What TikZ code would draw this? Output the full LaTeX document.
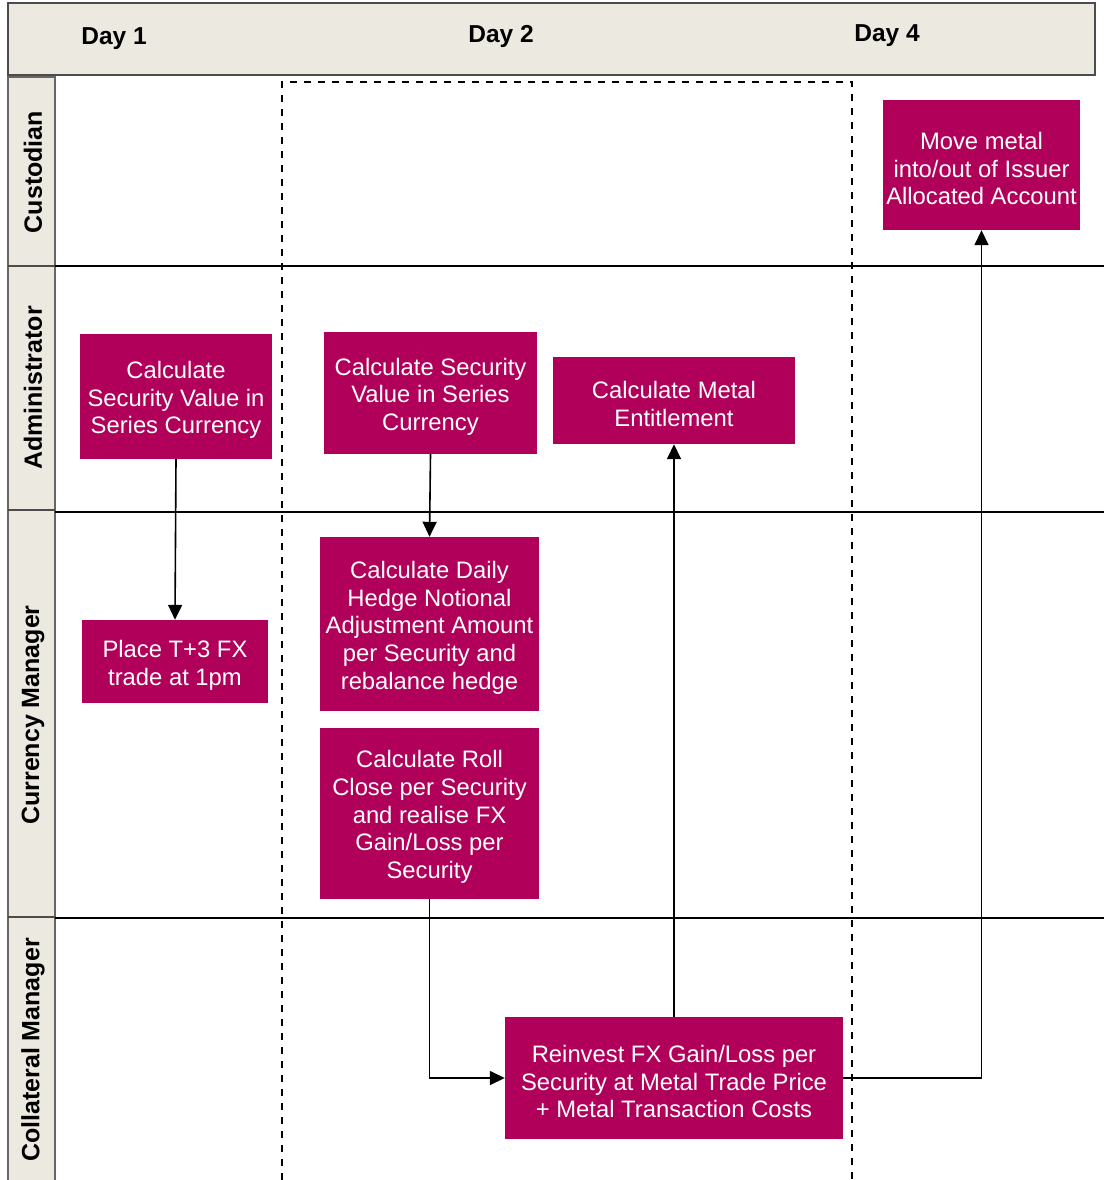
\documentclass[tikz,border=0pt]{standalone}
\usepackage{fontspec}
\setmainfont{Liberation Sans}
\usetikzlibrary{arrows.meta}
\definecolor{boxc}{RGB}{176,0,90}
\definecolor{beige}{RGB}{236,234,224}
\newcommand\myTopStrut{\rule{0pt}{24.5pt}}
\begin{document}
\begin{tikzpicture}[x=1pt,y=-1pt,
  proc/.style={fill=boxc,text=white,align=center,inner sep=0pt,font=\fontsize{23.8}{27.7}\selectfont},
  lane/.style={rotate=90,font=\fontsize{25}{29}\selectfont\bfseries},
  dayl/.style={font=\fontsize{24.5}{29}\selectfont\bfseries},
  conn/.style={line width=1.6pt,-{Triangle[length=15pt,width=14pt]}},
  sep/.style={line width=1.5pt}]
\useasboundingbox (0,0) rectangle (1104,1180);
\fill[white] (0,0) rectangle (1104,1180);
% header
\draw[fill=beige,draw=black!70,line width=1.2pt] (8,3) rectangle (1095,75);
\node[dayl] (d1) at (114,39) {Day 1};
\node[dayl] (d2) at (501,36) {Day 2};
\node[dayl] (d4) at (887,36) {Day 4};
% lane label column
\fill[beige] (8,77) rectangle (55,1180);
\draw[draw=black!60,line width=1.2pt] (8,1180) -- (8,77) -- (55,77) -- (55,1180);
\draw[draw=black!70,line width=1.2pt] (8,266) -- (55,266);
\draw[draw=black!70,line width=1.2pt] (8,510) -- (55,510);
\draw[draw=black!70,line width=1.2pt] (8,917) -- (55,917);
\node[lane] (lc) at (33,172) {Custodian};
\node[lane] (la) at (33,388) {Administrator};
\node[lane] (lm) at (33,715) {Currency Manager};
\node[lane] (lk) at (33,1050) {Collateral Manager};
% lane lines
\draw[sep] (55,266) -- (1104,266);
\draw[sep] (55,512) -- (1104,512);
\draw[sep] (55,918) -- (1104,918);
% dashed frame
\draw[line width=1.4pt,dash pattern=on 7pt off 7pt] (282,1180) -- (282,82) -- (852,82) -- (852,1180);
% boxes
\node[proc,minimum width=197pt,minimum height=130pt] (move) at (981.5,165) {\myTopStrut Move metal\\into/out of Issuer\\Allocated Account};
\node[proc,minimum width=192pt,minimum height=125pt] (sv1) at (176,396.5) {\myTopStrut Calculate\\Security Value in\\Series Currency};
\node[proc,minimum width=213pt,minimum height=122pt] (sv2) at (430.5,393) {\myTopStrut Calculate Security\\Value in Series\\Currency};
\node[proc,minimum width=242pt,minimum height=87pt] (me) at (674,400.5) {\myTopStrut Calculate Metal\\Entitlement};
\node[proc,minimum width=186pt,minimum height=83pt] (fx) at (175,661.5) {\myTopStrut Place T+3 FX\\trade at 1pm};
\node[proc,minimum width=219pt,minimum height=174pt] (hedge) at (429.5,624) {\myTopStrut Calculate Daily\\Hedge Notional\\Adjustment Amount\\per Security and\\rebalance hedge};
\node[proc,minimum width=219pt,minimum height=171pt] (roll) at (429.5,813.5) {\myTopStrut Calculate Roll\\Close per Security\\and realise FX\\Gain/Loss per\\Security};
\node[proc,minimum width=338pt,minimum height=122pt] (re) at (674,1078) {\myTopStrut Reinvest FX Gain/Loss per\\Security at Metal Trade Price\\+ Metal Transaction Costs};
% connectors
\draw[conn] (sv1.south) -- (fx.north);
\draw[conn] (sv2.south) -- (hedge.north);
\draw[conn] (roll.south) |- (re.west);
\draw[conn] (re.north) -- (me.south);
\draw[conn] (re.east) -| (move.south);
\end{tikzpicture}
\end{document}
